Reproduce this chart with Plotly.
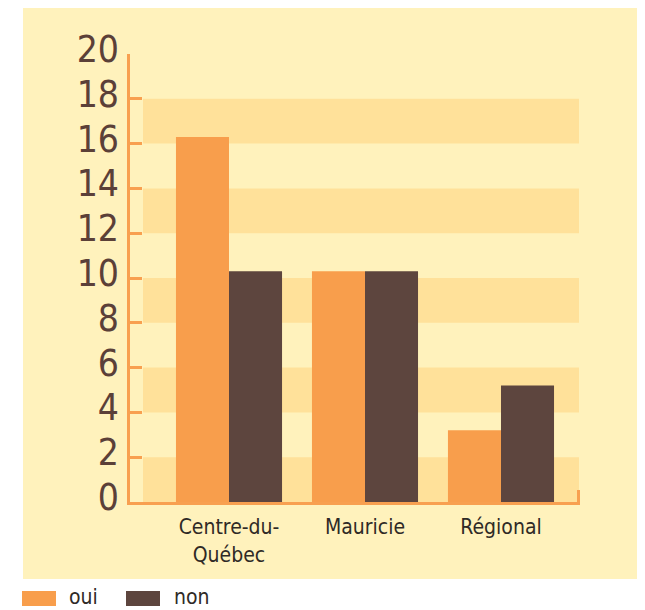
import plotly.graph_objects as go

categories = ["Centre-du-<br>Québec", "Mauricie", "Régional"]
oui = [16.3, 10.3, 3.2]
non = [10.3, 10.3, 5.2]
series_names = ["oui", "non"]
y_ticks = [0, 2, 4, 6, 8, 10, 12, 14, 16, 18, 20]
bands = [(0, 2), (4, 6), (8, 10), (12, 14), (16, 18)]

ORANGE = "#F89E4C"
BROWN = "#5D453E"
PANEL = "#FFF2BC"
BAND = "#FFE19A"
AXIS = "#F8A050"
FONT = "Liberation Sans Narrow, Arial Narrow, DejaVu Sans Condensed, sans-serif"

W, H = 645, 610
OFF = 8  # page body margin
L, R, T, B = 122, 73, 41, 116
pw, ph = W - L - R, H - T - B

def px(x):  # screen x -> paper
    return (x - OFF - L) / pw

def py(y):  # screen y -> paper
    return (H - B - (y - OFF)) / ph

xs = list(range(len(categories)))

fig = go.Figure()
fig.add_trace(go.Bar(x=xs, y=oui, name=series_names[0], marker_color=ORANGE,
                     marker_line_width=0, showlegend=False))
fig.add_trace(go.Bar(x=xs, y=non, name=series_names[1], marker_color=BROWN,
                     marker_line_width=0, showlegend=False))
fig.add_trace(go.Scatter(x=[None], y=[None], yaxis="y2", showlegend=False,
                         hoverinfo="skip"))

shapes = [dict(type="rect", xref="paper", yref="paper",
               x0=px(23), x1=px(640), y0=py(579), y1=py(5),
               fillcolor=PANEL, line_width=0, layer="below")]
for a, b in bands:
    shapes.append(dict(type="rect", xref="paper", yref="y",
                       x0=px(143), x1=px(579), y0=a, y1=b,
                       fillcolor=BAND, line_width=0, layer="below"))
# small end tick at right of x axis
shapes.append(dict(type="line", xref="paper", yref="paper",
                   x0=px(578.5), x1=px(578.5), y0=py(502), y1=py(490),
                   line=dict(color=AXIS, width=3)))
# legend keys
shapes.append(dict(type="rect", xref="paper", yref="paper",
                   x0=px(22), x1=px(56), y0=py(606), y1=py(591),
                   fillcolor=ORANGE, line_width=0))
shapes.append(dict(type="rect", xref="paper", yref="paper",
                   x0=px(126), x1=px(160), y0=py(606), y1=py(591),
                   fillcolor=BROWN, line_width=0))

annotations = [
    dict(text=series_names[0], xref="paper", yref="paper", x=px(67), y=py(597),
         xanchor="left", yanchor="middle", showarrow=False,
         font=dict(family=FONT, size=21, color="#2F2A26")),
    dict(text=series_names[1], xref="paper", yref="paper", x=px(172), y=py(597),
         xanchor="left", yanchor="middle", showarrow=False,
         font=dict(family=FONT, size=21, color="#2F2A26")),
]

shift = 5
fig.update_layout(
    width=W, height=H,
    margin=dict(l=L, r=R, t=T, b=B, pad=0),
    paper_bgcolor="white",
    plot_bgcolor="rgba(0,0,0,0)",
    barmode="group", bargap=0.22, bargroupgap=0,
    shapes=shapes, annotations=annotations,
    xaxis=dict(range=[-0.728, 2.581], tickvals=xs, ticktext=categories,
               showgrid=False, zeroline=False, showline=True,
               linecolor=AXIS, linewidth=3, ticks="",
               tickfont=dict(family=FONT, size=21, color="#2F2A26"),
               ticklabelstandoff=4, fixedrange=True),
    yaxis=dict(range=[0, 20], domain=[0, 448 / ph], tickvals=y_ticks,
               showticklabels=False, showgrid=False, zeroline=False,
               showline=True, linecolor=AXIS, linewidth=3,
               ticks="inside", ticklen=12, tickwidth=3, tickcolor=AXIS),
    yaxis2=dict(range=[0, 20], domain=[shift / ph, (448 + shift) / ph],
                anchor="x", side="left", tickvals=y_ticks,
                showgrid=False, zeroline=False, showline=False, ticks="",
                tickfont=dict(family=FONT, size=37, color="#5B4038"),
                ticklabelstandoff=10),
    hovermode=False,
)

fig.write_html("out.html")
